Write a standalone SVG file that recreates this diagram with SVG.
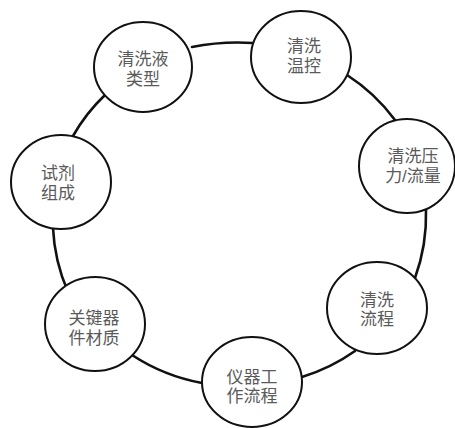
<svg xmlns="http://www.w3.org/2000/svg" width="455" height="428" viewBox="0 0 455 428">
<style>
.n{fill:#fff;stroke:#111;stroke-width:2}
.c{fill:none;stroke:#111;stroke-width:2.6;stroke-linecap:round}
text{font-family:"Liberation Sans","Noto Sans CJK SC",sans-serif;font-size:17px;fill:#5a5a5a;text-anchor:middle}
</style>
<rect width="455" height="428" fill="#fff"/>
<g id="connectors">
<path class="c" d="M192,47 Q222,41 253,43"/>
<path class="c" d="M347,75 Q375,93 395,120"/>
<path class="c" d="M426,210 Q427,245 415,278"/>
<path class="c" d="M355,351 Q331,368 302,377"/>
<path class="c" d="M132,355 Q164,376 202,383"/>
<path class="c" d="M53,228 Q54.5,261 68,292"/>
<path class="c" d="M105,95 Q86,113 73,136"/>
</g>
<g id="n1"><ellipse class="n" cx="143" cy="67" rx="49" ry="45"/><text x="143" y="65">清洗液<tspan x="143" dy="20">类型</tspan></text></g>
<g id="n2"><ellipse class="n" cx="301" cy="57" rx="50" ry="46"/><text x="304" y="52">清洗<tspan x="304" dy="20">温控</tspan></text></g>
<g id="n3"><ellipse class="n" cx="407" cy="166" rx="48" ry="47"/><text x="413" y="162">清洗压<tspan x="413" dy="20">力/流量</tspan></text></g>
<g id="n4"><ellipse class="n" cx="61" cy="182" rx="50" ry="47"/><text x="58" y="179">试剂<tspan x="58" dy="20">组成</tspan></text></g>
<g id="n5"><ellipse class="n" cx="95" cy="324" rx="50" ry="47"/><text x="94" y="324">关键器<tspan x="94" dy="20">件材质</tspan></text></g>
<g id="n6"><ellipse class="n" cx="252" cy="382" rx="50" ry="45"/><text x="252" y="383">仪器工<tspan x="252" dy="19">作流程</tspan></text></g>
<g id="n7"><ellipse class="n" cx="377" cy="308" rx="50" ry="46"/><text x="377" y="306">清洗<tspan x="377" dy="19">流程</tspan></text></g>
</svg>
